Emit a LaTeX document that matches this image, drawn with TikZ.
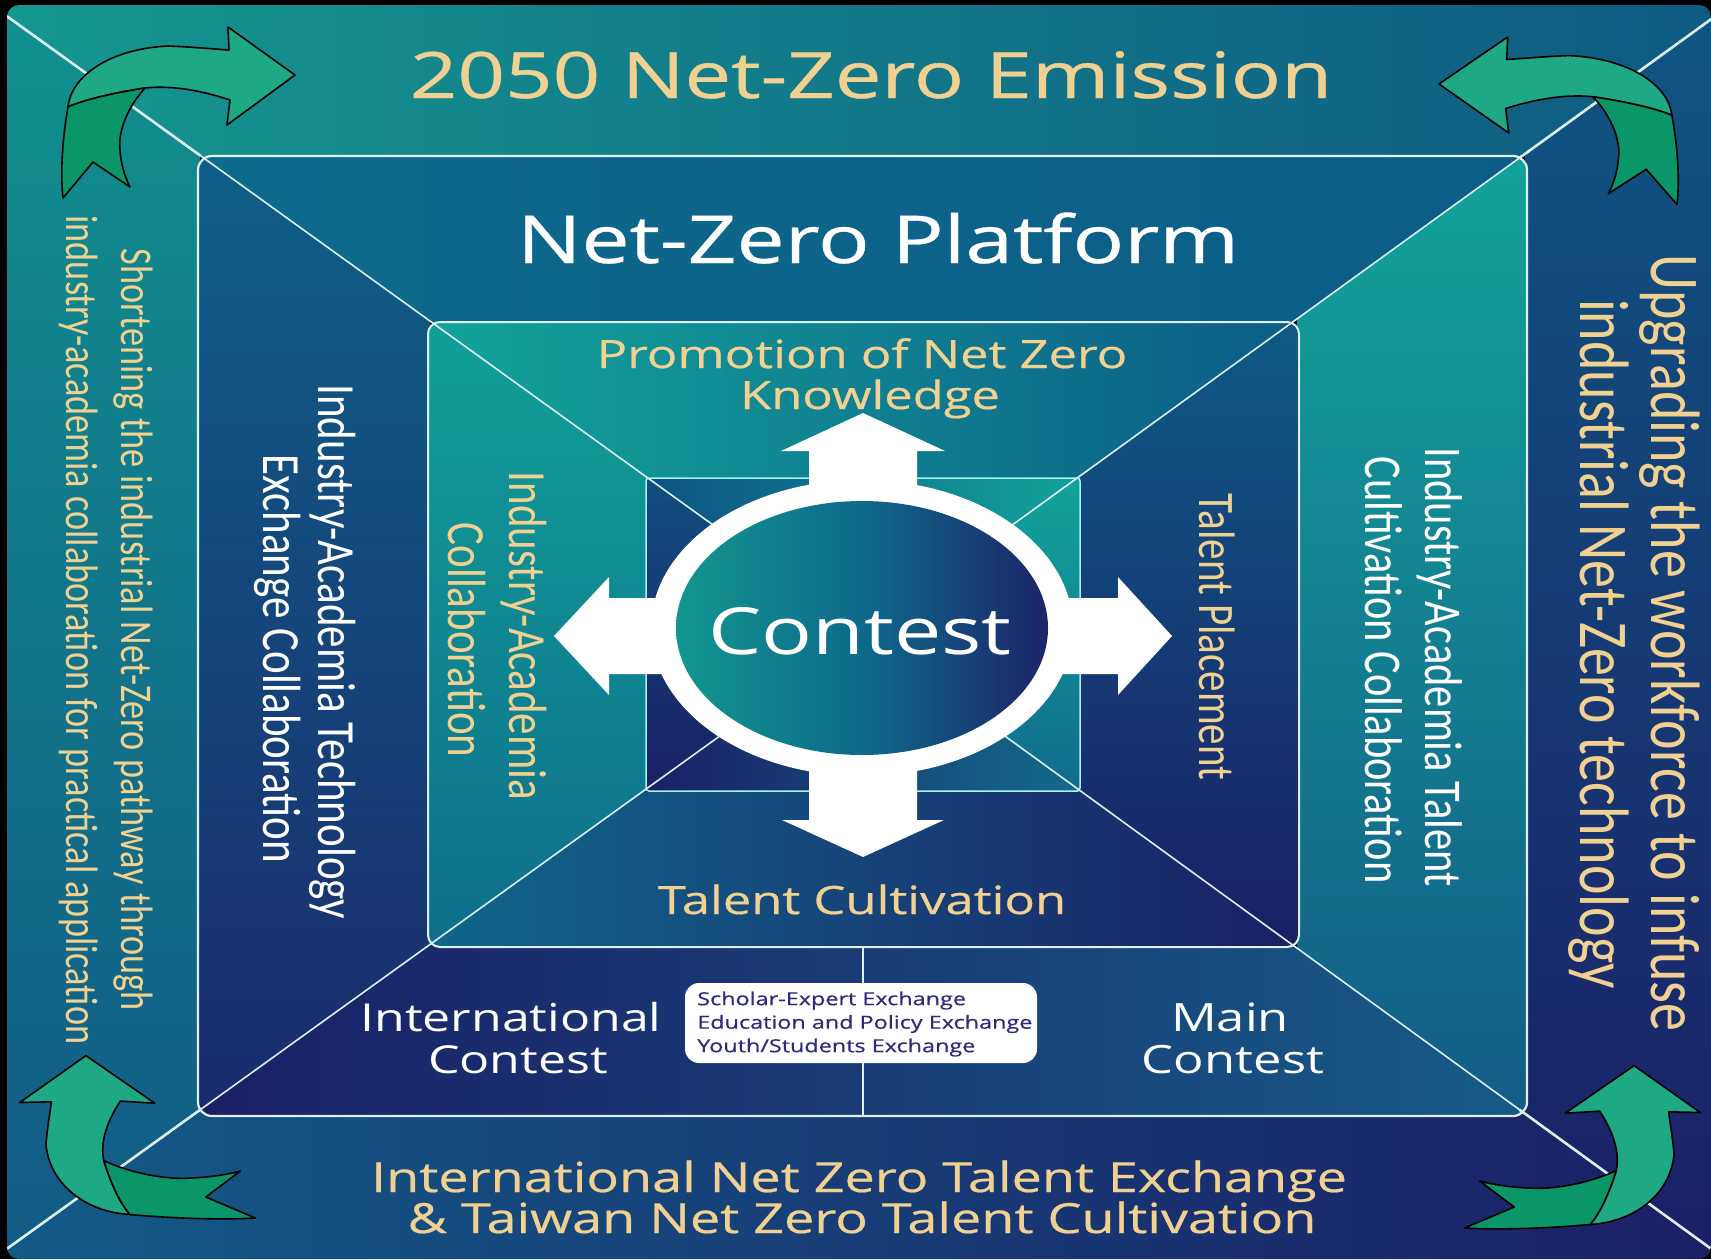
\documentclass[tikz,border=0pt]{standalone}
\usepackage{fontspec}
\setmainfont{Open Sans}
\newfontfamily\osb{Open Sans}[FakeBold=0.5]
\newfontfamily\osr{Open Sans}
\newfontfamily\carl{Carlito}
\usetikzlibrary{calc}
\definecolor{gold}{HTML}{F0D191}
\definecolor{boxtxt}{HTML}{2E2B7C}
\definecolor{diagc}{HTML}{DDF2F0}
\definecolor{greenL}{HTML}{1FA884}
\definecolor{greenD}{HTML}{0A9669}
\definecolor{oA}{HTML}{15968F}\definecolor{oB}{HTML}{0F5A83}
\definecolor{oC}{HTML}{11908E}\definecolor{oD}{HTML}{125A86}
\definecolor{oE}{HTML}{0F5683}\definecolor{oF}{HTML}{1C1F66}
\definecolor{oG}{HTML}{135A87}\definecolor{oH}{HTML}{1B1F66}
\definecolor{pA}{HTML}{0E6B8C}\definecolor{pB}{HTML}{0C5C87}
\definecolor{pC}{HTML}{0F5F88}\definecolor{pD}{HTML}{1A2B6D}
\definecolor{pE}{HTML}{12A39B}\definecolor{pF}{HTML}{145C87}
\definecolor{pG}{HTML}{1B1F66}\definecolor{pH}{HTML}{165A87}
\definecolor{iA}{HTML}{12A49B}\definecolor{iB}{HTML}{0D5C87}
\definecolor{iC}{HTML}{10A098}\definecolor{iD}{HTML}{0F6E8C}
\definecolor{iE}{HTML}{0E5A86}\definecolor{iF}{HTML}{1B1F66}
\definecolor{iG}{HTML}{10668B}\definecolor{iH}{HTML}{1B2066}
\definecolor{sA}{HTML}{0E5282}\definecolor{sB}{HTML}{12A39B}
\definecolor{sC}{HTML}{114E80}\definecolor{sD}{HTML}{1B1F66}
\definecolor{sE}{HTML}{12A39B}\definecolor{sF}{HTML}{116C8D}
\definecolor{sG}{HTML}{1B1F66}\definecolor{sH}{HTML}{136A8C}
\definecolor{elA}{HTML}{12968F}\definecolor{elB}{HTML}{0E6A8C}\definecolor{elC}{HTML}{1C2468}
\newcommand\rgn[4]{\begin{scope}\clip (#1) -- (#2) -- (C) -- cycle; \shade[#3] #4; \end{scope}}
\newcommand\garrow{%
 \filldraw[garrowL] (5,82) .. controls (8,52) and (45,24) .. (105,21) .. controls (130,22) and (150,24) .. (166,25) -- (165,2) -- (232,50) -- (164,100) -- (167,75) .. controls (140,66) and (110,60) .. (82,63) .. controls (50,68) and (20,75) .. (5,82) -- cycle;
 \filldraw[garrowD] (5,82) .. controls (0,110) and (-3,145) .. (0,173) -- (30,137) -- (67,162) .. controls (62,152) and (58,140) .. (57,125) .. controls (55,110) and (62,85) .. (82,63) .. controls (50,68) and (20,75) .. (5,82) -- cycle;
}
\tikzset{
 garrowL/.style={fill=greenL, draw=black, line width=1.6pt, line join=round},
 garrowD/.style={fill=greenD, draw=black, line width=1.6pt, line join=round},
 diagline/.style={draw=diagc},
 frame/.style={draw=diagc},
 hT/.style={anchor=base, xscale=1.3, inner sep=0pt},
 vT/.style={anchor=center, rotate=-90, yscale=1.25, inner sep=0pt},
 whitebox/.style={fill=white, rounded corners=14pt, minimum width=352pt, minimum height=80pt, inner sep=0pt}
}
\begin{document}
\begin{tikzpicture}[x=1pt,y=-1pt]
\useasboundingbox (0,0) rectangle (1711,1259);
\fill[black] (0,0) rectangle (1711,1259);
\coordinate (C) at (863,633);
\coordinate (TL) at (8,17);
\coordinate (TR) at (1710,20);
\coordinate (BL) at (8,1248);
\coordinate (BR) at (1710,1248);
\coordinate (xTL) at ($(C)!1.3!(TL)$);
\coordinate (xTR) at ($(C)!1.3!(TR)$);
\coordinate (xBL) at ($(C)!1.3!(BL)$);
\coordinate (xBR) at ($(C)!1.3!(BR)$);
% outer panel
\begin{scope}
\clip[rounded corners=12pt] (7,5) rectangle (1711,1259);
\rgn{xTL}{xTR}{left color=oA, right color=oB}{(7,5) rectangle (1711,160)}
\rgn{xTL}{xBL}{top color=oC, bottom color=oD}{(7,5) rectangle (200,1259)}
\rgn{xTR}{xBR}{top color=oE, bottom color=oF}{(1525,5) rectangle (1711,1259)}
\rgn{xBL}{xBR}{left color=oG, right color=oH}{(7,1110) rectangle (1711,1259)}
\end{scope}
% platform
\begin{scope}
\clip[rounded corners=14pt] (198,156) rectangle (1527,1116);
\rgn{xTL}{xTR}{left color=pA, right color=pB}{(198,156) rectangle (1527,325)}
\rgn{xTL}{xBL}{top color=pC, bottom color=pD}{(198,156) rectangle (430,1116)}
\rgn{xTR}{xBR}{top color=pE, bottom color=pF}{(1297,156) rectangle (1527,1116)}
\rgn{xBL}{xBR}{left color=pG, right color=pH}{(198,945) rectangle (1527,1116)}
\end{scope}
% inner
\begin{scope}
\clip[rounded corners=12pt] (428,322) rectangle (1299,947);
\rgn{xTL}{xTR}{left color=iA, right color=iB}{(428,322) rectangle (1299,480)}
\rgn{xTL}{xBL}{top color=iC, bottom color=iD}{(428,322) rectangle (648,947)}
\rgn{xTR}{xBR}{top color=iE, bottom color=iF}{(1078,322) rectangle (1299,947)}
\rgn{xBL}{xBR}{left color=iG, right color=iH}{(428,789) rectangle (1299,947)}
\end{scope}
% small square
\begin{scope}
\clip (646,478) rectangle (1080,791);
\rgn{xTL}{xTR}{left color=sA, right color=sB}{(646,478) rectangle (1080,640)}
\rgn{xTL}{xBL}{top color=sC, bottom color=sD}{(646,478) rectangle (865,791)}
\rgn{xTR}{xBR}{top color=sE, bottom color=sF}{(860,478) rectangle (1080,791)}
\rgn{xBL}{xBR}{left color=sG, right color=sH}{(646,630) rectangle (1080,791)}
\end{scope}
% diagonals
\begin{scope}
\clip[rounded corners=12pt] (7,5) rectangle (1711,1259);
\foreach \c/\x in {TL/xTL,TR/xTR,BL/xBL,BR/xBR}{
  \draw[diagline, line width=2.6pt] ($(C)!1.03!(\c)$) -- ($(\c)!0.225!(C)$);
  \draw[diagline, line width=1.6pt] ($(\c)!0.225!(C)$) -- (C);
}
\end{scope}
% frames
\draw[frame, line width=2.2pt, rounded corners=14pt] (198,156) rectangle (1527,1116);
\draw[frame, line width=2pt, rounded corners=12pt] (428,322) rectangle (1299,947);
\draw[frame, draw=diagc!75!cyan, line width=1.5pt, rounded corners=3pt] (646,478) rectangle (1080,791);
\coordinate (vtop) at (863,947);
\coordinate (vbot) at (863,1116);
\draw[frame, line width=2pt] (vtop) -- (vbot);
% white arrows
\fill[white] (809,633) -- (809,451) -- (781,451) -- (863,413) -- (945,451) -- (917,451) -- (917,633) -- cycle;
\fill[white] (809,633) -- (809,820) -- (782,820) -- (863,857) -- (944,820) -- (917,820) -- (917,633) -- cycle;
\fill[white] (863,598) -- (609,598) -- (609,577) -- (554,636) -- (609,695) -- (609,674) -- (863,674) -- cycle;
\fill[white] (863,598) -- (1118,598) -- (1118,577) -- (1172,636) -- (1118,695) -- (1118,674) -- (863,674) -- cycle;
% ring
\fill[white] (862,628) ellipse [x radius=211pt, y radius=148pt];
\shade[left color=elA, right color=elC, middle color=elB] (862,628) ellipse [x radius=186pt, y radius=127pt];
% green arrows
\begin{scope}[shift={(63,25)}]\garrow\end{scope}
\begin{scope}[shift={(1677,35)}, xscale=-1.026, yscale=0.98]\garrow\end{scope}
\begin{scope}[shift={(17,1218)}, xscale=1.378, yscale=0.70, rotate=90]\garrow\end{scope}
\begin{scope}[shift={(1703,1228)}, xscale=-1.378, yscale=0.70, rotate=90]\garrow\end{scope}
% white box
\node[whitebox] (bx) at (861,1023) {};
\node[anchor=west, xscale=1.3, align=left, inner sep=0pt, text=boxtxt, font=\osb\fontsize{18}{23.5}\selectfont] (bt) at (697,1024) {Scholar-Expert Exchange\\Education and Policy Exchange\\Youth/Students Exchange};
% horizontal texts
\node[hT, text=gold, font=\osb\fontsize{64}{64}\selectfont] (title) at (871,98) {2050 Net-Zero Emission};
\node[hT, text=white, font=\osb\fontsize{66}{66}\selectfont] (plat) at (878,263) {Net-Zero Platform};
\node[hT, text=gold, font=\osb\fontsize{39}{39}\selectfont] (prom1) at (862,368) {Promotion of Net Zero};
\node[hT, text=gold, font=\osb\fontsize{39}{39}\selectfont] (prom2) at (870,409) {Knowledge};
\node[hT, text=white, font=\osr\fontsize{65}{65}\selectfont] (cont) at (860,654) {Contest};
\node[hT, text=gold, font=\osb\fontsize{39}{39}\selectfont] (tcult) at (862,914) {Talent Cultivation};
\node[hT, text=white, font=\osr\fontsize{38.5}{38.5}\selectfont] (ic1) at (511,1031) {International};
\node[hT, text=white, font=\osr\fontsize{38.5}{38.5}\selectfont] (ic2) at (518,1073) {Contest};
\node[hT, text=white, font=\osr\fontsize{39}{39}\selectfont] (mc1) at (1230,1031) {Main};
\node[hT, text=white, font=\osr\fontsize{39}{39}\selectfont] (mc2) at (1233,1073) {Contest};
\node[hT, text=gold, font=\osb\fontsize{41.5}{41.5}\selectfont] (bot1) at (859,1192) {International Net Zero Talent Exchange};
\node[hT, text=gold, font=\osb\fontsize{41.5}{41.5}\selectfont] (bot2) at (862,1233) {\& Taiwan Net Zero Talent Cultivation};
% vertical texts
\node[vT, text=gold, font=\carl\fontsize{36.3}{36.3}\selectfont] (l1) at (133,630) {Shortening the industrial Net-Zero pathway through};
\node[vT, text=gold, font=\carl\fontsize{36.3}{36.3}\selectfont] (l2) at (79,630) {industry-academia collaboration for practical application};
\node[vT, text=gold, font=\carl\fontsize{56}{56}\selectfont] (r1) at (1670,643) {Upgrading the workforce to infuse};
\node[vT, text=gold, font=\carl\fontsize{56}{56}\selectfont] (r2) at (1599,644) {industrial Net-Zero technology};
\node[vT, text=white, font=\carl\fontsize{43}{43}\selectfont] (w1) at (333,652) {Industry-Academia Technology};
\node[vT, text=white, font=\carl\fontsize{43}{43}\selectfont] (w2) at (278,659) {Exchange Collaboration};
\node[vT, text=gold, font=\carl\fontsize{43}{43}\selectfont] (g1) at (524,636) {Industry-Academia};
\node[vT, text=gold, font=\carl\fontsize{43}{43}\selectfont] (g2) at (467,640) {Collaboration};
\node[vT, text=gold, font=\carl\fontsize{41}{41}\selectfont] (tp) at (1217,637) {Talent Placement};
\node[vT, text=white, font=\carl\fontsize{42.5}{42.5}\selectfont] (rw1) at (1440,667) {Industry-Academia Talent};
\node[vT, text=white, font=\carl\fontsize{42.5}{42.5}\selectfont] (rw2) at (1384,670) {Cultivation Collaboration};
\end{tikzpicture}
\end{document}
